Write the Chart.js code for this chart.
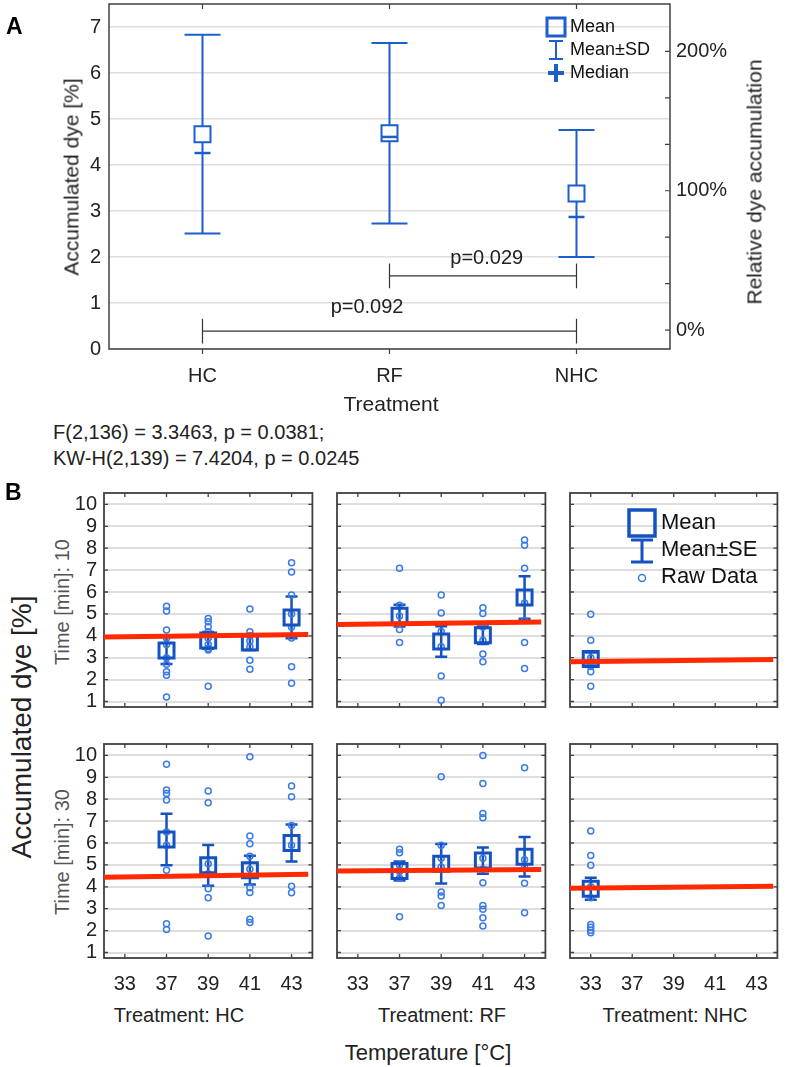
<!DOCTYPE html>
<html>
<head>
<meta charset="utf-8">
<title>Accumulated dye</title>
<script src="https://cdn.jsdelivr.net/npm/chart.js@4.4.1/dist/chart.umd.min.js"></script>
<style>
  html, body { margin: 0; padding: 0; background: #fff; }
  #page { position: relative; width: 787px; height: 1067px; overflow: hidden;
          font-family: "Liberation Sans", Arial, sans-serif; color: #222; }
  #page canvas { position: absolute; }
  .t { position: absolute; white-space: nowrap; line-height: 1; }
  .c { transform: translate(-50%, -50%); }
  .l { transform: translateY(-50%); }
  .v { transform: translate(-50%, -50%) rotate(-90deg); }
</style>
</head>
<body>
<div id="page">
  <canvas id="chartA" width="787" height="440" style="left:0;top:-20px"></canvas>

  <div class="t l" style="left:6px;top:26px;font-size:23px;font-weight:bold;color:#000">A</div>
  <div class="t v" style="left:71px;top:177px;font-size:21px">Accumulated dye [%]</div>
  <div class="t v" style="left:754px;top:182px;font-size:21px">Relative dye accumulation</div>
  <div class="t c" style="left:391px;top:403px;font-size:21px">Treatment</div>
  <div class="t l" style="left:53px;top:432px;font-size:20px">F(2,136) = 3.3463, p = 0.0381;</div>
  <div class="t l" style="left:53px;top:458px;font-size:20px">KW-H(2,139) = 7.4204, p = 0.0245</div>

  <div class="t l" style="left:5px;top:492px;font-size:23px;font-weight:bold;color:#000">B</div>
  <div class="t v" style="left:22px;top:727px;font-size:28px">Accumulated dye [%]</div>
  <div class="t v" style="left:62px;top:602px;font-size:20px;color:#555">Time [min]: 10</div>
  <div class="t v" style="left:62px;top:852px;font-size:20px;color:#555">Time [min]: 30</div>
  <div class="t c" style="left:179px;top:1015px;font-size:20px">Treatment: HC</div>
  <div class="t c" style="left:442px;top:1015px;font-size:20px">Treatment: RF</div>
  <div class="t c" style="left:675px;top:1015px;font-size:20px">Treatment: NHC</div>
  <div class="t c" style="left:428px;top:1053px;font-size:22px">Temperature [°C]</div>
</div>

<script>
// ===== painel A: média ± DP por tratamento =====
const groups = ['HC', 'RF', 'NHC'];
const meanA = [4.67, 4.69, 3.38];
const sdA = [2.16, 1.96, 1.38];
const medianA = [4.26, 4.61, 2.87];
const yTicksA = [0, 1, 2, 3, 4, 5, 6, 7];
const yRangeA = [0, 7.5];
const relTicks = [0, 100 / 3, 200 / 3, 100, 400 / 3, 500 / 3, 200];
const relRef = [0.41, 3.44];   // valor absoluto que corresponde a 0% e a 100%

// comparações (índices dos grupos)
const pairFrom = [1, 0];
const pairTo = [2, 2];
const pairY = [1.59, 0.39];
const pairTick = 0.27;
const pairText = ['p=0.029', 'p=0.092'];
const pairTextX = [1.52, 0.88];
const pairTextY = [1.97, 0.90];

// ===== painel B: média ± EP por temperatura =====
const temps = ['33', '37', '39', '41', '43'];
const yTicksB = [1, 2, 3, 4, 5, 6, 7, 8, 9, 10];
const yRangeB = [0.75, 10.52];
const fitRange = [-0.5, 4.4];   // trecho em índice de temperatura coberto pela reta

const meanHC10 = [null, 3.33, 3.79, 3.70, 4.84];
const seHC10 = [null, 0.62, 0.38, 0.35, 0.95];
const rawHC10 = [
  [],
  [5.35, 5.13, 4.26, 3.9, 3.6, 3.0, 2.7, 2.36, 2.2, 1.21],
  [4.79, 4.64, 4.41, 4.19, 3.9, 3.6, 3.42, 3.35, 1.70],
  [5.22, 4.19, 4.0, 3.76, 3.5, 2.89, 2.47],
  [7.34, 6.91, 5.86, 5.0, 4.4, 3.9, 2.59, 1.83]
];
const fitHC10 = [3.95, 4.06];

const meanRF10 = [null, 4.92, 3.74, 4.03, 5.75];
const seRF10 = [null, 0.50, 0.70, 0.40, 0.97];
const rawRF10 = [
  [],
  [7.09, 5.4, 4.9, 4.29, 3.70],
  [5.86, 5.04, 4.2, 3.5, 2.16, 1.06],
  [5.28, 5.02, 4.4, 3.8, 3.17, 2.82],
  [8.37, 8.14, 7.09, 5.5, 4.7, 3.70, 2.51]
];
const fitRF10 = [4.52, 4.63];

const meanNHC10 = [2.94, null, null, null, null];
const seNHC10 = [0.30, null, null, null, null];
const rawNHC10 = [[4.98, 3.80, 3.0, 2.8, 2.6, 2.36, 1.70], [], [], [], []];
const fitNHC10 = [2.82, 2.92];

const meanHC30 = [null, 6.16, 4.98, 4.76, 6.00];
const seHC30 = [null, 1.18, 0.93, 0.66, 0.85];
const rawHC30 = [
  [],
  [9.59, 8.42, 8.26, 7.96, 6.5, 5.9, 4.76, 2.31, 2.05],
  [8.37, 7.84, 5.05, 4.6, 3.91, 3.50, 1.75],
  [9.94, 6.32, 5.97, 5.4, 4.8, 3.96, 3.74, 2.52, 2.37],
  [8.6, 8.11, 6.8, 5.9, 4.03, 3.73]
];
const fitHC30 = [4.44, 4.57];

const meanRF30 = [null, 4.72, 5.05, 5.20, 5.37];
const seRF30 = [null, 0.43, 0.90, 0.60, 0.90];
const rawRF30 = [
  [],
  [5.71, 5.56, 5.0, 4.7, 4.4, 2.63],
  [9.03, 5.9, 5.3, 4.9, 3.76, 3.58, 3.15],
  [10.0, 8.72, 7.35, 7.15, 5.3, 4.8, 4.19, 3.15, 2.97, 2.59, 2.21],
  [9.44, 5.24, 4.9, 4.16, 2.82]
];
const fitRF30 = [4.72, 4.79];

const meanNHC30 = [3.91, null, null, null, null];
const seNHC30 = [0.50, null, null, null, null];
const rawNHC30 = [[6.55, 5.43, 4.98, 4.0, 3.5, 2.28, 2.15, 2.02, 1.90], [], [], [], []];
const fitNHC30 = [3.93, 4.03];

// ===== estilos =====
const FONT = '"Liberation Sans", Arial, sans-serif';
const blueA = '#1c5fcc';
const blueB = '#1452c2';
const blueRaw = '#3a7be6';
const redFit = '#ff2a00';
const gridColor = '#dedede';
const frameColor = '#404040';

Chart.defaults.font.family = FONT;
Chart.defaults.color = '#222';
Chart.defaults.animation = false;

// ===== painel A =====
const toRel = v => (v - relRef[0]) / (relRef[1] - relRef[0]) * 100;

const panelAPlugin = {
  id: 'panelA',
  beforeDatasetsDraw(chart) {
    const { ctx, chartArea: a, scales: { x, y, y2 } } = chart;
    ctx.save();
    ctx.strokeStyle = frameColor;
    ctx.lineWidth = 1.5;
    ctx.strokeRect(a.left, a.top, a.right - a.left, a.bottom - a.top);
    ctx.lineWidth = 1.2;
    ctx.beginPath();
    groups.forEach((g, i) => {
      const px = x.getPixelForValue(i);
      ctx.moveTo(px, a.top); ctx.lineTo(px, a.top + 5);
      ctx.moveTo(px, a.bottom); ctx.lineTo(px, a.bottom + 5);
    });
    y2.ticks.forEach(t => {
      const py = y2.getPixelForValue(t.value);
      ctx.moveTo(a.right, py); ctx.lineTo(a.right - 5, py);
    });
    ctx.stroke();

    // colchetes de significância
    ctx.strokeStyle = '#333';
    ctx.lineWidth = 1.2;
    pairY.forEach((v, k) => {
      const x1 = x.getPixelForValue(pairFrom[k]);
      const x2 = x.getPixelForValue(pairTo[k]);
      const py = y.getPixelForValue(v);
      const t1 = y.getPixelForValue(v + pairTick);
      const t2 = y.getPixelForValue(v - pairTick);
      ctx.beginPath();
      ctx.moveTo(x1, py); ctx.lineTo(x2, py);
      ctx.moveTo(x1, t1); ctx.lineTo(x1, t2);
      ctx.moveTo(x2, t1); ctx.lineTo(x2, t2);
      ctx.stroke();
    });
    ctx.fillStyle = '#222';
    ctx.font = '20px ' + FONT;
    ctx.textAlign = 'center';
    ctx.textBaseline = 'middle';
    pairText.forEach((s, k) => {
      ctx.fillText(s, x.getPixelForValue(pairTextX[k]), y.getPixelForValue(pairTextY[k]));
    });

    // média ± DP
    ctx.strokeStyle = blueA;
    ctx.lineWidth = 2;
    meanA.forEach((m, i) => {
      const px = x.getPixelForValue(i);
      const top = y.getPixelForValue(m + sdA[i]);
      const bot = y.getPixelForValue(m - sdA[i]);
      ctx.beginPath();
      ctx.moveTo(px, top); ctx.lineTo(px, bot);
      ctx.moveTo(px - 18, top); ctx.lineTo(px + 18, top);
      ctx.moveTo(px - 18, bot); ctx.lineTo(px + 18, bot);
      ctx.stroke();
    });
    ctx.restore();
  },
  afterDatasetsDraw(chart) {
    const { ctx, chartArea: a, scales: { x, y } } = chart;
    ctx.save();
    // mediana
    ctx.strokeStyle = blueA;
    ctx.lineWidth = 2.5;
    medianA.forEach((md, i) => {
      const px = x.getPixelForValue(i);
      const py = y.getPixelForValue(md);
      ctx.beginPath();
      ctx.moveTo(px - 8, py); ctx.lineTo(px + 8, py);
      ctx.stroke();
    });

    // legenda
    const lx = a.right - 114;
    const ly = a.top + 23;
    ctx.lineWidth = 3;
    ctx.strokeRect(lx - 9, ly - 9, 18, 18);
    ctx.lineWidth = 2;
    ctx.beginPath();
    ctx.moveTo(lx, ly + 14); ctx.lineTo(lx, ly + 32);
    ctx.moveTo(lx - 7, ly + 14); ctx.lineTo(lx + 7, ly + 14);
    ctx.moveTo(lx - 7, ly + 32); ctx.lineTo(lx + 7, ly + 32);
    ctx.stroke();
    ctx.lineWidth = 4;
    ctx.beginPath();
    ctx.moveTo(lx - 8, ly + 46); ctx.lineTo(lx + 8, ly + 46);
    ctx.moveTo(lx, ly + 37); ctx.lineTo(lx, ly + 55);
    ctx.stroke();
    ctx.fillStyle = '#111';
    ctx.font = '18px ' + FONT;
    ctx.textAlign = 'left';
    ctx.textBaseline = 'middle';
    ctx.fillText('Mean', lx + 14, ly);
    ctx.fillText('Mean±SD', lx + 14, ly + 23);
    ctx.fillText('Median', lx + 14, ly + 46);
    ctx.restore();
  }
};

new Chart(document.getElementById('chartA'), {
  type: 'line',
  data: {
    labels: groups,
    datasets: [{
      data: meanA,
      showLine: false,
      pointStyle: 'rect',
      pointRadius: 11.3,
      pointBorderWidth: 2,
      pointBorderColor: blueA,
      pointBackgroundColor: '#fff'
    }]
  },
  options: {
    responsive: false,
    animation: false,
    layout: { padding: { top: 24, left: 0, right: 0, bottom: 0 } },
    plugins: { legend: { display: false }, tooltip: { enabled: false } },
    scales: {
      x: {
        type: 'category', offset: true,
        grid: { display: false }, border: { display: false },
        ticks: { padding: 9, maxRotation: 0, font: { size: 20, lineHeight: 1 }, color: '#222' },
        afterFit: s => { s.height = 71; }
      },
      y: {
        position: 'left', min: yRangeA[0], max: yRangeA[1],
        afterBuildTicks: s => { s.ticks = yTicksA.map(v => ({ value: v })); },
        grid: { color: gridColor, lineWidth: 1.5, drawTicks: false }, border: { display: false },
        ticks: { padding: 8, autoSkip: false, font: { size: 20, lineHeight: 1 }, color: '#222' },
        afterFit: s => { s.width = 109; }
      },
      y2: {
        position: 'right', min: toRel(yRangeA[0]), max: toRel(yRangeA[1]),
        afterBuildTicks: s => { s.ticks = relTicks.map(v => ({ value: v })); },
        grid: { drawOnChartArea: false, drawTicks: false },
        border: { display: false },
        ticks: {
          padding: 6, autoSkip: false, font: { size: 20, lineHeight: 1 }, color: '#222',
          callback: v => Math.abs(v - Math.round(v / 100) * 100) < 0.5 ? Math.round(v) + '%' : ''
        },
        afterFit: s => { s.width = 117; }
      }
    }
  },
  plugins: [panelAPlugin]
});

// ===== painel B =====
const page = document.getElementById('page');
const colL = [104, 337, 570];
const colR = [318, 551, 783];
const rowT = [493, 744];
const rowB = [707, 958];

const panelsB = [
  [[meanHC10, seHC10, rawHC10, fitHC10], [meanRF10, seRF10, rawRF10, fitRF10], [meanNHC10, seNHC10, rawNHC10, fitNHC10]],
  [[meanHC30, seHC30, rawHC30, fitHC30], [meanRF30, seRF30, rawRF30, fitRF30], [meanNHC30, seNHC30, rawNHC30, fitNHC30]]
];

function framePlugin(mean, se, withLegend) {
  return {
    id: 'frameB',
    beforeDatasetsDraw(chart) {
      const { ctx, chartArea: a, scales: { x, y } } = chart;
      ctx.save();
      ctx.strokeStyle = frameColor;
      ctx.lineWidth = 1.8;
      ctx.strokeRect(a.left, a.top, a.right - a.left, a.bottom - a.top);
      ctx.lineWidth = 1.3;
      ctx.beginPath();
      x.ticks.forEach(t => {
        const px = x.getPixelForValue(t.value);
        ctx.moveTo(px, a.top); ctx.lineTo(px, a.top + 4);
        ctx.moveTo(px, a.bottom); ctx.lineTo(px, a.bottom - 4);
      });
      y.ticks.forEach(t => {
        const py = y.getPixelForValue(t.value);
        ctx.moveTo(a.left, py); ctx.lineTo(a.left + 4, py);
        ctx.moveTo(a.right, py); ctx.lineTo(a.right - 4, py);
      });
      ctx.stroke();

      // média ± EP
      ctx.strokeStyle = blueB;
      ctx.lineWidth = 2.5;
      mean.forEach((m, i) => {
        if (m === null) return;
        const px = x.getPixelForValue(i);
        const top = y.getPixelForValue(m + se[i]);
        const bot = y.getPixelForValue(m - se[i]);
        ctx.beginPath();
        ctx.moveTo(px, top); ctx.lineTo(px, bot);
        ctx.moveTo(px - 6, top); ctx.lineTo(px + 6, top);
        ctx.moveTo(px - 6, bot); ctx.lineTo(px + 6, bot);
        ctx.stroke();
      });
      ctx.restore();
    },
    afterDatasetsDraw(chart) {
      if (!withLegend) return;
      const { ctx, chartArea: a } = chart;
      const lx = a.left + 72;
      const ly = a.top + 30;
      ctx.save();
      ctx.strokeStyle = blueB;
      ctx.lineWidth = 3.5;
      ctx.strokeRect(lx - 13, ly - 13, 26, 26);
      ctx.lineWidth = 3;
      ctx.beginPath();
      ctx.moveTo(lx, ly + 17); ctx.lineTo(lx, ly + 39);
      ctx.moveTo(lx - 11, ly + 17); ctx.lineTo(lx + 11, ly + 17);
      ctx.moveTo(lx - 11, ly + 39); ctx.lineTo(lx + 11, ly + 39);
      ctx.stroke();
      ctx.strokeStyle = blueRaw;
      ctx.lineWidth = 1.5;
      ctx.beginPath();
      ctx.arc(lx, ly + 55, 3.5, 0, Math.PI * 2);
      ctx.stroke();
      ctx.fillStyle = '#111';
      ctx.font = '22px ' + FONT;
      ctx.textAlign = 'left';
      ctx.textBaseline = 'middle';
      ctx.fillText('Mean', lx + 19, ly);
      ctx.fillText('Mean±SE', lx + 19, ly + 27);
      ctx.fillText('Raw Data', lx + 19, ly + 54);
      ctx.restore();
    }
  };
}

function smallChart(r, c) {
  const [mean, se, raw, fit] = panelsB[r][c];
  const cv = document.createElement('canvas');
  cv.width = colR[c] - colL[c] + 48 + 8;
  cv.height = rowB[r] - rowT[r] + 26 + 44;
  cv.style.left = (colL[c] - 48) + 'px';
  cv.style.top = (rowT[r] - 26) + 'px';
  page.appendChild(cv);

  const rawPts = raw.flatMap((vals, i) => vals.map(v => ({ x: i, y: v })));
  const meanPts = mean.map((m, i) => ({ x: i, y: m })).filter(p => p.y !== null);
  const fitPts = fitRange.map((xv, k) => ({ x: xv, y: fit[k] }));

  new Chart(cv, {
    type: 'scatter',
    data: {
      datasets: [
        { data: fitPts, showLine: true, borderColor: redFit, borderWidth: 5, pointRadius: 0, order: 0 },
        { data: meanPts, pointStyle: 'rect', pointRadius: 10.6, pointBorderWidth: 3,
          pointBorderColor: blueB, pointBackgroundColor: 'rgba(0,0,0,0)', order: 1 },
        { data: rawPts, pointStyle: 'circle', pointRadius: 3, pointBorderWidth: 1.5,
          pointBorderColor: blueRaw, pointBackgroundColor: 'rgba(0,0,0,0)', order: 2 }
      ]
    },
    options: {
      responsive: false,
      animation: false,
      layout: { padding: { top: 26, right: 8, left: 0, bottom: 0 } },
      plugins: { legend: { display: false }, tooltip: { enabled: false } },
      scales: {
        x: {
          type: 'linear', min: -0.5, max: temps.length - 0.5,
          afterBuildTicks: s => { s.ticks = temps.map((t, i) => ({ value: i })); },
          grid: { display: false }, border: { display: false },
          ticks: { display: r === 1, padding: 8, maxRotation: 0, autoSkip: false,
                   font: { size: 20, lineHeight: 1 }, color: '#222', callback: v => temps[v] },
          afterFit: s => { s.height = 44; }
        },
        y: {
          type: 'linear', min: yRangeB[0], max: yRangeB[1],
          afterBuildTicks: s => { s.ticks = yTicksB.map(v => ({ value: v })); },
          grid: { color: gridColor, lineWidth: 2, drawTicks: false }, border: { display: false },
          ticks: { display: c === 0, padding: 7, autoSkip: false,
                   font: { size: 20, lineHeight: 1 }, color: '#222' },
          afterFit: s => { s.width = 48; }
        }
      }
    },
    plugins: [framePlugin(mean, se, r === 0 && c === 2)]
  });
}

for (let r = 0; r < 2; r++) {
  for (let c = 0; c < 3; c++) smallChart(r, c);
}
</script>
</body>
</html>
